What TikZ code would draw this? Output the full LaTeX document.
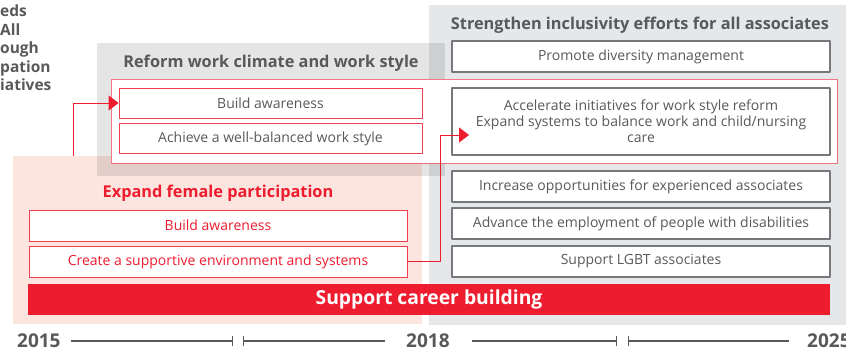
\documentclass[tikz,border=0pt]{standalone}
\usepackage{fontspec}
\setmainfont{Open Sans}
\usetikzlibrary{arrows.meta}

\definecolor{barred}{HTML}{ED1C2E}
\definecolor{linered}{HTML}{EE3E50}
\definecolor{txtgray}{HTML}{58595B}
\definecolor{boxgray}{HTML}{77787B}
\definecolor{panelgray}{HTML}{E6E7E8}
\definecolor{panelpink}{HTML}{FDE5DF}

\begin{document}
\begin{tikzpicture}[
  x={(1pt,0pt)},
  y={(0pt,-1pt)},
  line join=round,
  heading/.style={text=txtgray,font=\bfseries\fontsize{16.3}{19}\selectfont,inner sep=0pt},
  itembox/.style={fill=white,inner sep=0pt,align=center,
    font=\fontsize{14}{16}\selectfont,text=txtgray},
  graybox/.style={itembox,draw=boxgray,line width=1.1pt,
    minimum width=378pt,minimum height=31pt},
  redbox/.style={itembox,draw=linered,line width=0.9pt,
    minimum width=303pt,minimum height=30pt},
  fembox/.style={itembox,draw=linered,line width=0.9pt,text=barred,
    minimum width=378pt,minimum height=31pt},
  link/.style={draw=barred,line width=0.9pt,
    -{Triangle[length=10pt,width=15pt]}},
  yearlbl/.style={text=txtgray,font=\bfseries\fontsize{19}{20}\selectfont,inner sep=0pt},
  tline/.style={draw=txtgray,line width=1.2pt}
]
  \useasboundingbox (0,0) rectangle (846,351);
  \clip (0,0) rectangle (846,351);

  % Background panels.
  \fill[panelpink] (13,156) rectangle (422,324);
  \fill[panelgray] (429,5) rectangle (850,325);
  \fill[black,opacity=0.1] (97,43) rectangle (445,176);

  % Cut-off heading at the left edge.
  \node[heading,anchor=north west,align=left,font=\bfseries\fontsize{15.5}{18.5}\selectfont]
    (oldnote) at (0,5) {eds\\All\\ough\\pation\\iatives};

  % Panel headings.
  \node[heading] (hinclu) at (640,25) {Strengthen inclusivity efforts for all associates};
  \node[heading] (hreform) at (271,63) {Reform work climate and work style};
  \node[heading,text=barred] (hfemale) at (218,193) {Expand female participation};

  % Red frame across the middle row.
  \draw[linered,line width=0.8pt,draw opacity=0.7,fill=white] (111,79) rectangle (837,163);

  % Work climate items.
  \node[redbox] (rbuild) at (270.5,103) {Build awareness};
  \node[redbox] (rbalance) at (270.5,138.5) {Achieve a well-balanced work style};

  % Inclusivity items.
  \node[graybox] (promote) at (641,56.5) {Promote diversity management};
  \node[graybox,minimum height=67pt] (accel) at (641,121.5)
    {Accelerate initiatives for work style reform\\
     Expand systems to balance work and child/nursing\\ care};
  \node[graybox] (experienced) at (641,186.5) {Increase opportunities for experienced associates};
  \node[graybox] (disability) at (641,223.5) {Advance the employment of people with disabilities};
  \node[graybox] (lgbt) at (641,261.5) {Support LGBT associates};

  % Female participation items.
  \node[fembox] (fbuild) at (218,225.5) {Build awareness};
  \node[fembox] (fsupport) at (218,261.5) {Create a supportive environment and systems};

  % Career bar.
  \node[fill=barred,text=white,minimum width=802pt,minimum height=31pt,inner sep=0pt,
    font=\bfseries\fontsize{19.3}{21}\selectfont] (career) at (429,299.5) {Support career building};

  % Connectors.
  \coordinate (femtop) at (73,156);
  \coordinate (acceltip) at (469,135);
  \draw[link] (femtop) |- (rbuild.west);
  \draw[link] (fsupport.east) -- ++(33,0) |- (acceltip);

  % Timeline.
  \node[yearlbl,anchor=west] (y2015) at (17,341) {2015};
  \node[yearlbl,anchor=west] (y2018) at (406,341) {2018};
  \node[yearlbl,anchor=west] (y2025) at (807,341) {2025};
  \coordinate (gapa) at (233,341);
  \coordinate (gapb) at (243,341);
  \coordinate (gapc) at (617,341);
  \coordinate (gapd) at (628,341);
  \draw[tline,-{Bar[width=10pt]}] ([xshift=10pt]y2015.east) -- (gapa);
  \draw[tline,{Bar[width=10pt]}-] (gapb) -- ([xshift=-21pt]y2018.west);
  \draw[tline,-{Bar[width=10pt]}] ([xshift=22pt]y2018.east) -- (gapc);
  \draw[tline,{Bar[width=10pt]}-] (gapd) -- ([xshift=-18pt]y2025.west);
\end{tikzpicture}
\end{document}
